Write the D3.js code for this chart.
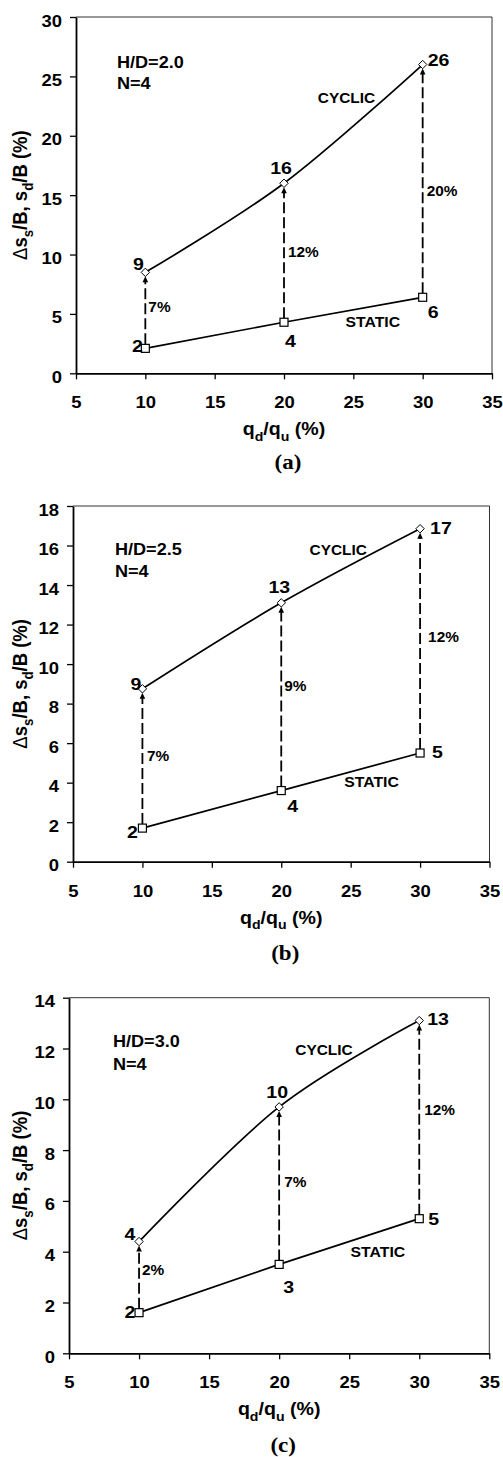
<!DOCTYPE html>
<html><head><meta charset="utf-8">
<script src="https://cdn.jsdelivr.net/npm/d3@7"></script>
<style>body{margin:0;background:#fff}svg{display:block}</style>
</head><body>
<svg id="c" width="503" height="1457"></svg>
<script>
// ---- data ----
const xTicks = [5, 10, 15, 20, 25, 30, 35];
const qd = [10, 20, 30];
const yTicksA = [0, 5, 10, 15, 20, 25, 30];
const yTicksB = [0, 2, 4, 6, 8, 10, 12, 14, 16, 18];
const yTicksC = [0, 2, 4, 6, 8, 10, 12, 14];
const cyclicA = [8.5, 16, 26],   staticA = [2.1, 4.3, 6.4];
const cyclicB = [8.75, 13.1, 16.85], staticB = [1.7, 3.6, 5.5];
const cyclicC = [4.4, 9.7, 13.1], staticC = [1.6, 3.5, 5.3];
const cycLabA = ["9", "16", "26"], staLabA = ["2", "4", "6"], pctA = ["7%", "12%", "20%"];
const cycLabB = ["9", "13", "17"], staLabB = ["2", "4", "5"], pctB = ["7%", "9%", "12%"];
const cycLabC = ["4", "10", "13"], staLabC = ["2", "3", "5"], pctC = ["2%", "7%", "12%"];
const hdA = ["H/D=2.0", "N=4"], hdB = ["H/D=2.5", "N=4"], hdC = ["H/D=3.0", "N=4"];
const captions = ["(a)", "(b)", "(c)"];
const seriesNames = ["CYCLIC", "STATIC"];

// ---- layout ----
const layouts = [
  {box:[76,17,492,373.3], yMax:30, yT:yTicksA, cyc:cyclicA, sta:staticA, cl:cycLabA, sl:staLabA, pl:pctA, hd:hdA, cap:captions[0],
   cOff:[[-7,-2,'middle'],[-3,-9,'middle'],[5,1,'start']],
   sOff:[[-8,4,'middle'],[1,25,'start'],[5,21,'start']],
   pOff:[[3,2],[4,4],[4,15]], hdOff:[41,51,72], cycPos:[24.5,22.8], staPos:[26.4,3.9], capDy:96},
  {box:[73,506,489.5,861.7], yMax:18, yT:yTicksB, cyc:cyclicB, sta:staticB, cl:cycLabB, sl:staLabB, pl:pctB, hd:hdB, cap:captions[1],
   cOff:[[-6.5,1,'middle'],[-2,-10,'middle'],[10,5,'start']],
   sOff:[[-10,10,'middle'],[6,21,'start'],[12,5,'start']],
   pOff:[[4.5,3],[3,-6],[8,1]], hdOff:[42,49,71], cycPos:[24.1,15.5], staPos:[26.5,3.8], capDy:98},
  {box:[69,997.7,489.3,1353.3], yMax:14, yT:yTicksC, cyc:cyclicC, sta:staticC, cl:cycLabC, sl:staLabC, pl:pctC, hd:hdC, cap:captions[2],
   cOff:[[-9,-1.5,'middle'],[-2,-9,'middle'],[8,4.5,'start']],
   sOff:[[-9,5,'middle'],[4,29,'start'],[9,6,'start']],
   pOff:[[3,-2],[5,1],[5,-4.5]], hdOff:[44,49,72], cycPos:[23.2,11.74], staPos:[27.05,3.79], capDy:99}
];

const SANS = '"Liberation Sans", Arial, Helvetica, sans-serif';
const SERIF = '"Liberation Serif", "Times New Roman", serif';
const svg = d3.select('#c');
svg.append('rect').attr('width',503).attr('height',1457).attr('fill','#fff');

function txt(g, x, y, parts, o) {
  const fs = o.fs;
  const t = g.append('text')
    .attr('transform', `translate(${x},${y}) ${o.rot ? 'rotate(' + o.rot + ') scale(1,' + (o.sy || 1) + ')' : 'scale(' + (o.sx || 1) + ',1)'}`)
    .attr('font-family', o.ff || SANS).attr('font-weight', 'bold')
    .attr('font-size', fs).attr('text-anchor', o.anchor || 'start').attr('fill', '#000');
  if (typeof parts === 'string') { t.text(parts); return t; }
  let shifted = false; const sh = fs * 0.3;
  parts.forEach(p => {
    const [s, sub, w] = p;
    const ts = t.append('tspan').text(s).attr('font-size', sub ? fs * 0.72 : fs);
    if (w) ts.attr('font-weight', w);
    if (sub && !shifted) { ts.attr('dy', sh); shifted = true; }
    else if (!sub && shifted) { ts.attr('dy', -sh); shifted = false; }
  });
  return t;
}

layouts.forEach(P => {
  const [L, T, R, B] = P.box;
  const x = d3.scaleLinear().domain([5, 35]).range([L, R]);
  const y = d3.scaleLinear().domain([0, P.yMax]).range([B, T]);
  const g = svg.append('g');

  // top/right frame
  g.append('path').attr('d', `M${L},${T}H${R}V${B}`).attr('fill', 'none').attr('stroke', '#333').attr('stroke-width', 1);

  // axes
  const xa = g.append('g').attr('transform', `translate(0,${B})`)
    .call(d3.axisBottom(x).tickValues(xTicks).tickSize(6).tickSizeOuter(0));
  xa.select('.domain').attr('stroke', '#000').attr('stroke-width', 1.8);
  xa.selectAll('.tick line').attr('stroke', '#000').attr('stroke-width', 1.3);
  xa.selectAll('.tick text').attr('y', 35).attr('dy', 0).attr('font-family', SANS).attr('font-weight', 'bold')
    .attr('font-size', 16.5).attr('fill', '#000').attr('transform', 'scale(1.12,1)');

  const ya = g.append('g').attr('transform', `translate(${L},0)`)
    .call(d3.axisLeft(y).tickValues(P.yT).tickSize(6).tickSizeOuter(0));
  ya.select('.domain').attr('stroke', '#000').attr('stroke-width', 1.8);
  ya.selectAll('.tick line').attr('stroke', '#000').attr('stroke-width', 1.3);
  ya.selectAll('.tick text').attr('x', -14 / 1.12).attr('dy', '0.55em').attr('font-family', SANS).attr('font-weight', 'bold')
    .attr('font-size', 16.5).attr('fill', '#000').attr('transform', 'scale(1.12,1)');

  // series lines
  const staPts = qd.map((q, i) => [q, P.sta[i]]);
  const cycPts = qd.map((q, i) => [q, P.cyc[i]]);
  g.append('path').attr('d', d3.line().x(d => x(d[0])).y(d => y(d[1]))(staPts))
    .attr('fill', 'none').attr('stroke', '#000').attr('stroke-width', 1.7);
  g.append('path').attr('d', d3.line().x(d => x(d[0])).y(d => y(d[1])).curve(d3.curveCardinal.tension(0))(cycPts))
    .attr('fill', 'none').attr('stroke', '#000').attr('stroke-width', 1.7);

  // dashed arrows
  qd.forEach((q, i) => {
    const px = x(q), ys = y(P.sta[i]), yc = y(P.cyc[i]);
    g.append('line').attr('x1', px).attr('x2', px).attr('y1', ys - 4).attr('y2', yc + 9)
      .attr('stroke', '#000').attr('stroke-width', 1.8).attr('stroke-dasharray', '11,4');
    g.append('path').attr('d', `M${px},${yc + 4}L${px + 2.8},${yc + 10}L${px - 2.8},${yc + 10}Z`).attr('fill', '#000');
    txt(g, px + P.pOff[i][0], (ys + yc) / 2 + P.pOff[i][1], P.pl[i], {fs: 14, sx: 1.1});
  });

  // markers
  staPts.forEach(d => {
    g.append('rect').attr('x', x(d[0]) - 4).attr('y', y(d[1]) - 4).attr('width', 8).attr('height', 8)
      .attr('fill', '#fff').attr('stroke', '#000').attr('stroke-width', 1.2);
  });
  cycPts.forEach(d => {
    const cx = x(d[0]), cy = y(d[1]);
    g.append('path').attr('d', `M${cx},${cy - 4.2}L${cx + 4.2},${cy}L${cx},${cy + 4.2}L${cx - 4.2},${cy}Z`)
      .attr('fill', '#fff').attr('stroke', '#000').attr('stroke-width', 1);
  });

  // value labels
  cycPts.forEach((d, i) => txt(g, x(d[0]) + P.cOff[i][0], y(d[1]) + P.cOff[i][1], P.cl[i], {fs: 17, sx: 1.15, anchor: P.cOff[i][2]}));
  staPts.forEach((d, i) => txt(g, x(d[0]) + P.sOff[i][0], y(d[1]) + P.sOff[i][1], P.sl[i], {fs: 17, sx: 1.15, anchor: P.sOff[i][2]}));

  // series names
  txt(g, x(P.cycPos[0]), y(P.cycPos[1]), seriesNames[0], {fs: 14, sx: 1.1, anchor: 'middle'});
  txt(g, x(P.staPos[0]), y(P.staPos[1]), seriesNames[1], {fs: 14, sx: 1.13, anchor: 'middle'});

  // header
  txt(g, L + P.hdOff[0], T + P.hdOff[1], P.hd[0], {fs: 16, sx: 1.13});
  txt(g, L + P.hdOff[0], T + P.hdOff[2], P.hd[1], {fs: 16, sx: 1.13});

  // axis titles
  txt(g, (L + R) / 2, B + 62, [["q"], ["d", true], ["/q"], ["u", true], [" (%)"]], {fs: 17.5, sx: 1.12, anchor: 'middle'});
  txt(g, 27, (T + B) / 2, [["\u0394", false, 'normal'], ["s"], ["s", true], ["/B, s"], ["d", true], ["/B (%)"]],
      {fs: 18.5, rot: -90, sy: 1.05, anchor: 'middle'});

  // caption
  txt(g, (L + R) / 2 + 4, B + P.capDy, P.cap, {fs: 20, sx: 1.15, anchor: 'middle', ff: SERIF});
});
</script>
</body></html>
